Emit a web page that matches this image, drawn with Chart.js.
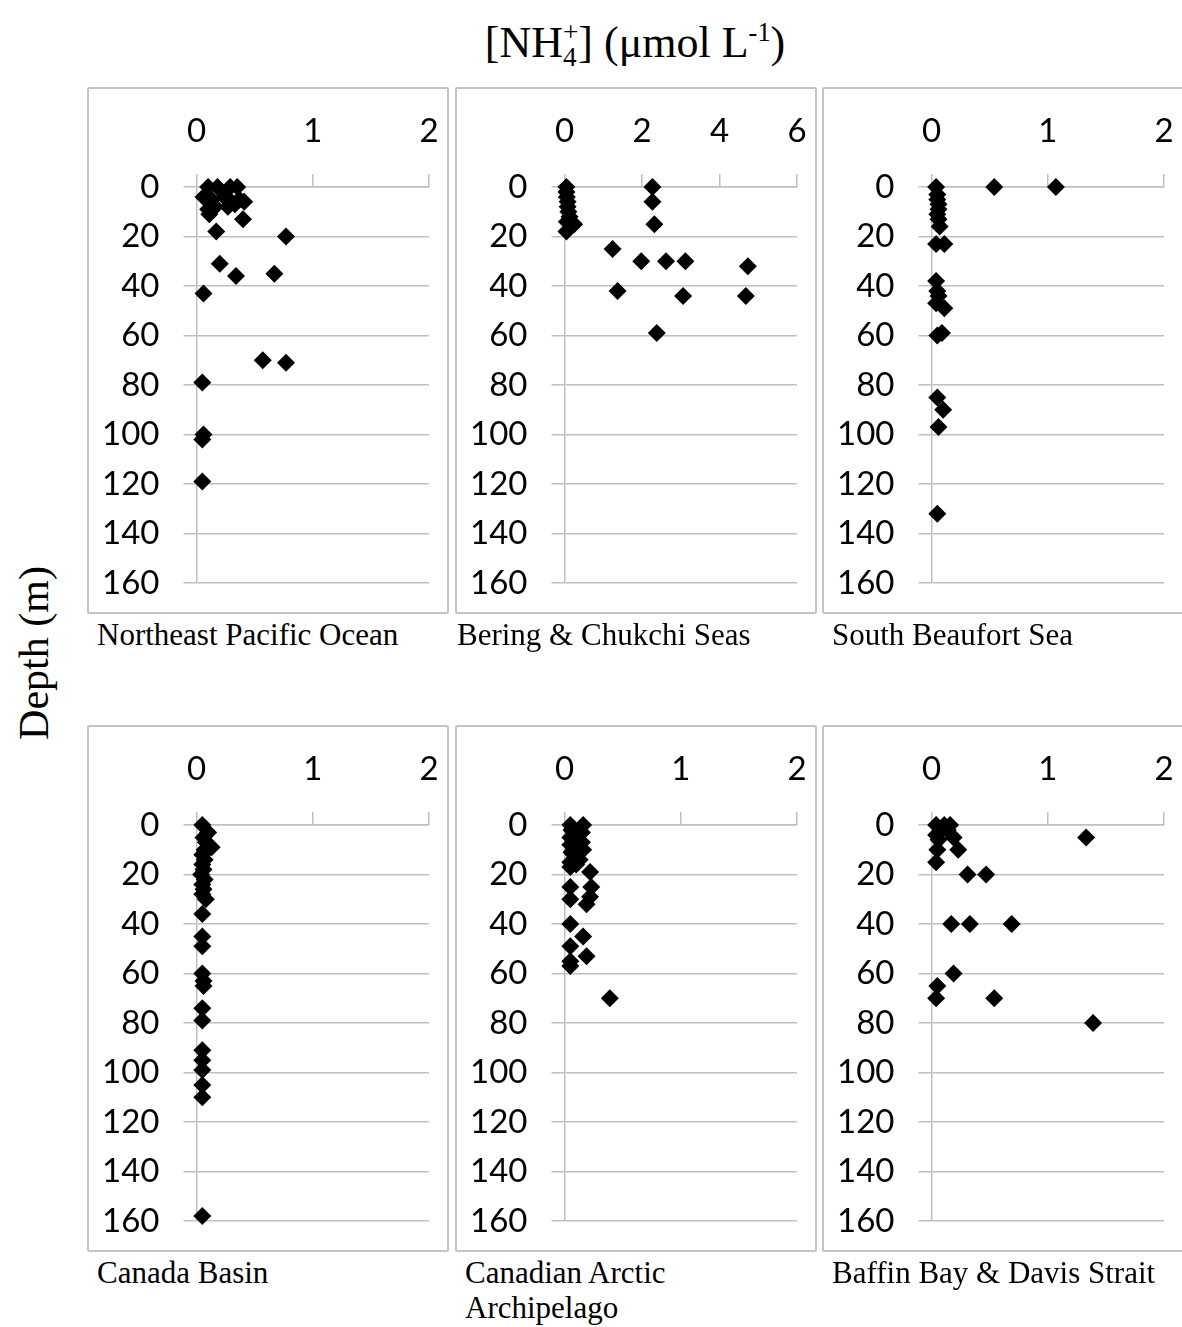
<!DOCTYPE html>
<html>
<head>
<meta charset="utf-8">
<script src="https://cdn.jsdelivr.net/npm/chart.js@4/dist/chart.umd.min.js"></script>
<style>
	body { margin: 0; background: #fff; width: 1182px; height: 1327px; position: relative; overflow: hidden; }
	.panel { position: absolute; width: 362px; height: 527px; }
	.frame { position: absolute; width: 362px; height: 527px; box-sizing: border-box; border: 2px solid #c4c4c4; border-radius: 2px; pointer-events: none; }
	.lbl { position: absolute; font-family: 'Liberation Serif', 'Times New Roman', serif; font-size: 31px; line-height: 35px; color: #000; white-space: nowrap; }
	#title { position: absolute; left: 0; width: 1270px; top: 2px; text-align: center; font-family: 'Liberation Serif', serif; font-size: 44px; line-height: 60px; }
	#ylab { position: absolute; left: 34px; top: 653px; transform: translate(-50%, -50%) rotate(-90deg); font-family: 'Liberation Serif', serif; font-size: 42px; white-space: nowrap; }
	.stack { display: inline-block; vertical-align: middle; line-height: 0.9; font-size: 0.62em; text-align: left; position: relative; top: -2px; }
	.stack span { display: block; }
</style>
</head>
<body>
<div id="title">[NH<span class="stack"><span>+</span><span>4</span></span>] (μmol L<sup style="font-size:0.6em">-1</sup>)</div>
<div id="ylab">Depth (m)</div>

<canvas id="c1" class="panel" width="362" height="527" style="left:87px;top:87px"></canvas>
<div class="frame" style="left:87px;top:87px"></div>
<canvas id="c2" class="panel" width="362" height="527" style="left:454.5px;top:87px"></canvas>
<div class="frame" style="left:454.5px;top:87px"></div>
<canvas id="c3" class="panel" width="362" height="527" style="left:822px;top:87px"></canvas>
<div class="frame" style="left:822px;top:87px"></div>
<canvas id="c4" class="panel" width="362" height="527" style="left:87px;top:725px"></canvas>
<div class="frame" style="left:87px;top:725px"></div>
<canvas id="c5" class="panel" width="362" height="527" style="left:454.5px;top:725px"></canvas>
<div class="frame" style="left:454.5px;top:725px"></div>
<canvas id="c6" class="panel" width="362" height="527" style="left:822px;top:725px"></canvas>
<div class="frame" style="left:822px;top:725px"></div>

<div class="lbl" style="left:97px;top:617px">Northeast Pacific Ocean</div>
<div class="lbl" style="left:457px;top:617px">Bering &amp; Chukchi Seas</div>
<div class="lbl" style="left:832px;top:617px">South Beaufort Sea</div>
<div class="lbl" style="left:97px;top:1255px">Canada Basin</div>
<div class="lbl" style="left:465px;top:1255px">Canadian Arctic<br>Archipelago</div>
<div class="lbl" style="left:832px;top:1255px">Baffin Bay &amp; Davis Strait</div>

<script>
'use strict';

// NH4+ (umol/L) and depth (m)
const pacificNH4 = [0.10, 0.18, 0.29, 0.35, 0.06, 0.13, 0.24, 0.30, 0.37, 0.41, 0.10, 0.16, 0.27, 0.33, 0.11, 0.40, 0.17, 0.77, 0.20, 0.34, 0.67, 0.06, 0.57, 0.77, 0.05, 0.06, 0.05, 0.05];
const pacificDepth = [0, 0, 0, 0, 4, 5, 4, 6, 5, 6, 9, 8, 8, 7, 11, 13, 18, 20, 31, 36, 35, 43, 70, 71, 79, 100, 102, 119];

const beringNH4 = [0.05, 0.05, 0.06, 0.08, 0.08, 0.10, 0.13, 0.25, 0.06, 0.05, 2.27, 2.27, 2.32, 1.24, 1.98, 2.62, 3.12, 4.73, 1.37, 3.06, 4.68, 2.38];
const beringDepth = [0, 2, 4, 6, 8, 10, 12, 15, 14, 18, 0, 6, 15, 25, 30, 30, 30, 32, 42, 44, 44, 59];

const beaufortNH4 = [0.04, 0.54, 1.07, 0.05, 0.05, 0.06, 0.06, 0.05, 0.06, 0.07, 0.04, 0.11, 0.04, 0.05, 0.06, 0.04, 0.11, 0.09, 0.05, 0.05, 0.10, 0.06, 0.05];
const beaufortDepth = [0, 0, 0, 3, 5, 7, 9, 11, 13, 16, 23, 23, 38, 42, 44, 47, 49, 59, 60, 85, 90, 97, 132];

const basinNH4 = [0.05, 0.10, 0.06, 0.08, 0.13, 0.07, 0.05, 0.07, 0.05, 0.06, 0.04, 0.07, 0.05, 0.06, 0.05, 0.08, 0.05, 0.05, 0.05, 0.05, 0.06, 0.06, 0.05, 0.05, 0.05, 0.05, 0.05, 0.05, 0.05, 0.05];
const basinDepth = [0, 3, 5, 7, 9, 10, 12, 14, 16, 18, 20, 22, 24, 26, 28, 30, 36, 45, 49, 60, 63, 65, 74, 79, 91, 95, 99, 105, 110, 158];

const archipelagoNH4 = [0.05, 0.16, 0.06, 0.15, 0.05, 0.09, 0.15, 0.05, 0.10, 0.16, 0.06, 0.08, 0.13, 0.05, 0.10, 0.05, 0.22, 0.05, 0.23, 0.22, 0.05, 0.19, 0.05, 0.16, 0.05, 0.19, 0.05, 0.05, 0.39];
const archipelagoDepth = [0, 0, 2, 3, 5, 6, 7, 8, 9, 10, 11, 12, 14, 15, 16, 17, 19, 25, 25, 29, 30, 32, 40, 45, 49, 53, 55, 57, 70];

const baffinNH4 = [0.04, 0.11, 0.16, 0.09, 0.14, 0.04, 0.19, 0.06, 0.05, 0.23, 0.04, 1.33, 0.31, 0.47, 0.17, 0.33, 0.69, 0.19, 0.05, 0.04, 0.54, 1.39];
const baffinDepth = [0, 0, 0, 2, 2, 4, 5, 6, 10, 10, 15, 5, 20, 20, 40, 40, 40, 60, 65, 70, 70, 80];

const depthMax = 160;
const depthStep = 20;

const gridGray = '#c0c0c0';
const tickFont = { family: 'Lato, "Open Sans", sans-serif', size: 33 };

function toPoints(xs, ys) {
	let pts = [];
	for (let i = 0; i < xs.length; i++) {
		pts.push({ x: xs[i], y: ys[i] });
	}
	return pts;
}

function makePanel(id, xs, ys, xMax, xStep) {
	let ctx = document.getElementById(id).getContext('2d');
	return new Chart(ctx, {
		type: 'scatter',
		data: {
			datasets: [{
				data: toPoints(xs, ys),
				pointStyle: 'rectRot',
				pointRadius: 9,
				pointBorderWidth: 0,
				backgroundColor: '#000',
				borderColor: '#000',
				clip: false
			}]
		},
		options: {
			responsive: false,
			animation: false,
			events: [],
			layout: { padding: { left: 0, top: 0, right: 20, bottom: 31 } },
			plugins: { legend: { display: false }, tooltip: { enabled: false } },
			scales: {
				x: {
					type: 'linear',
					position: 'top',
					min: 0,
					max: xMax,
					// fixed band above the plot, no extra side padding for labels
					afterFit: (scale) => {
						scale.height = 100;
						scale.paddingLeft = 0;
						scale.paddingRight = 0;
					},
					ticks: { stepSize: xStep, color: '#000', font: tickFont, padding: 23, maxRotation: 0 },
					grid: { drawOnChartArea: false, drawTicks: true, tickLength: 13, color: gridGray, lineWidth: 1.5 },
					border: { display: true, color: gridGray, width: 1.5 }
				},
				y: {
					type: 'linear',
					reverse: true,
					min: 0,
					max: depthMax,
					afterFit: (scale) => {
						scale.width = 109.5;
						scale.paddingTop = 0;
						scale.paddingBottom = 0;
					},
					ticks: { stepSize: depthStep, color: '#000', font: tickFont, padding: 24 },
					grid: { drawTicks: true, tickLength: 13, color: gridGray, lineWidth: 1.5 },
					border: { display: true, color: gridGray, width: 1.5 }
				}
			}
		}
	});
}

window.addEventListener('load', function() {
	makePanel('c1', pacificNH4, pacificDepth, 2, 1);
	makePanel('c2', beringNH4, beringDepth, 6, 2);
	makePanel('c3', beaufortNH4, beaufortDepth, 2, 1);
	makePanel('c4', basinNH4, basinDepth, 2, 1);
	makePanel('c5', archipelagoNH4, archipelagoDepth, 2, 1);
	makePanel('c6', baffinNH4, baffinDepth, 2, 1);
}, false);
</script>
</body>
</html>
